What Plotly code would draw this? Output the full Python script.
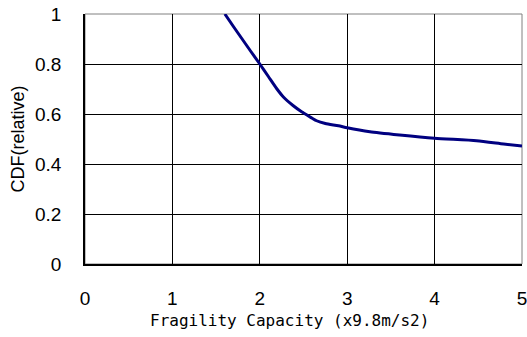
import plotly.graph_objects as go

# Data
capacity = [1.60, 1.70, 1.80, 1.90, 2.00, 2.10, 2.19, 2.27, 2.38, 2.47, 2.54, 2.60, 2.65,
            2.75, 2.90, 3.00, 3.26, 3.60, 4.00, 4.48, 4.79, 5.00]
cdf = [1.000, 0.949, 0.899, 0.849, 0.800, 0.749, 0.703, 0.668, 0.634, 0.611, 0.596, 0.583,
       0.573, 0.562, 0.553, 0.545, 0.529, 0.516, 0.503, 0.493, 0.480, 0.472]

x_ticks = [0, 1, 2, 3, 4, 5]
y_ticks = [0, 0.2, 0.4, 0.6, 0.8, 1]
y_tick_labels = ["0", "0.2", "0.4", "0.6", "0.8", "1"]
x_title = "Fragility Capacity (x9.8m/s2)"
y_title = "CDF(relative)"

tick_font = dict(family="Liberation Sans, Arial, sans-serif", size=19, color="black")

fig = go.Figure()
fig.add_trace(go.Scatter(x=capacity, y=cdf, mode="lines",
                         line=dict(color="#000080", width=3, shape="spline", smoothing=0.6),
                         showlegend=False))

fig.add_shape(type="rect", xref="paper", yref="paper", x0=0, y0=0, x1=1, y1=1,
              line=dict(color="#808080", width=1), layer="below")

fig.add_annotation(text=x_title, xref="paper", yref="paper", x=0.469, y=-0.225,
                   xanchor="center", yanchor="middle", showarrow=False,
                   font=dict(family="DejaVu Sans Mono", size=16, color="black"))

fig.update_layout(
    width=527, height=337,
    margin=dict(l=85, r=5, t=14, b=73),
    paper_bgcolor="white", plot_bgcolor="white",
    font=dict(family="Liberation Sans, Arial, sans-serif", color="black"),
    xaxis=dict(range=[0, 5], tickvals=x_ticks, showgrid=True, gridcolor="black", gridwidth=1,
               zeroline=False, showline=True, linecolor="black", linewidth=1.5,
               ticks="", ticklabelstandoff=16, tickfont=tick_font,
               ticklabeloverflow="allow", automargin=False),
    yaxis=dict(range=[0, 1], tickvals=y_ticks, ticktext=y_tick_labels, showgrid=True,
               gridcolor="black", gridwidth=1, zeroline=False, showline=True,
               linecolor="black", linewidth=1.5, ticks="", ticklabelstandoff=18,
               tickfont=tick_font, ticklabeloverflow="allow", automargin=False,
               title=dict(text=y_title,
                          font=dict(family="Liberation Sans, Arial, sans-serif", size=18,
                                    color="black"),
                          standoff=6)),
)

fig.write_html("out.html")
